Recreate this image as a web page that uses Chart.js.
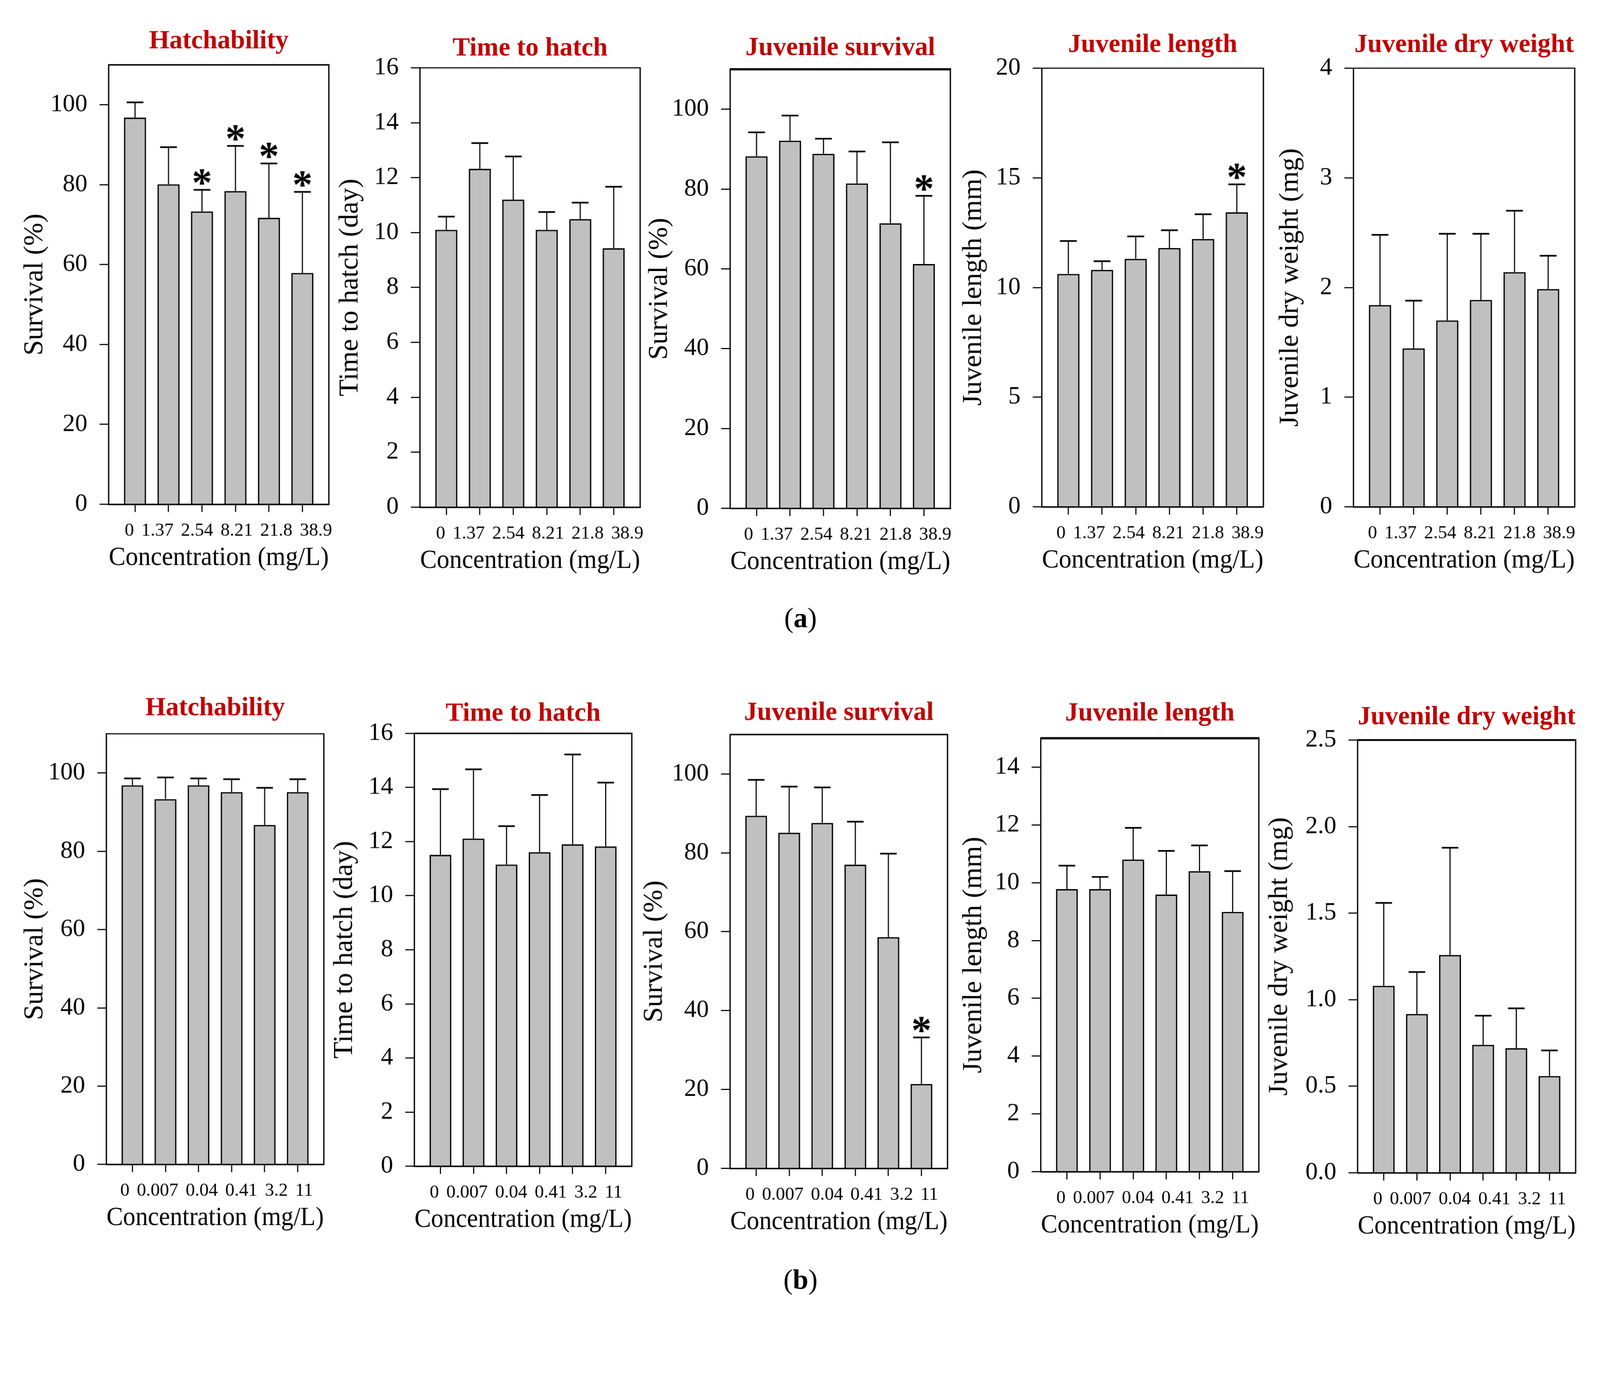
<!DOCTYPE html>
<html><head><meta charset="utf-8">
<script src="https://cdn.jsdelivr.net/npm/chart.js@4.4.1/dist/chart.umd.min.js"></script>
<style>
html,body{margin:0;padding:0;background:#fff;overflow:hidden;}
body{font-family:'Liberation Serif','Times New Roman',serif;}
#page{position:absolute;left:0;top:0;width:4343px;height:3559px;transform-origin:0 0;background:#fff;}
#page canvas{position:absolute;}
.lbl{position:absolute;font-size:76px;line-height:1;transform:translate(-50%,-50%);color:#000;white-space:nowrap;}
</style></head><body>
<div id="page">
<div class="lbl" style="left:2173px;top:1677px">(<b>a</b>)</div>
<div class="lbl" style="left:2173px;top:3473px">(<b>b</b>)</div>
</div>
<script>
// ---------- categories ----------
const catsA = ['0', '1.37', '2.54', '8.21', '21.8', '38.9'];
const catsB = ['0', '0.007', '0.04', '0.41', '3.2', '11'];

// ---------- (a) series ----------
const hatchA      = [96.8, 80.1, 73.3, 78.4, 71.7, 57.9];
const hatchAErr   = [3.8, 9.3, 5.4, 11.3, 13.6, 20.3];
const hatchASig   = [0, 0, 1, 1, 1, 1];

const timeA       = [10.1, 12.32, 11.2, 10.1, 10.49, 9.43];
const timeAErr    = [0.48, 0.94, 1.57, 0.65, 0.6, 2.24];
const timeASig    = [0, 0, 0, 0, 0, 0];

const survA       = [88.2, 92.1, 88.8, 81.4, 71.4, 61.2];
const survAErr    = [6.0, 6.3, 3.8, 8.0, 20.3, 17.1];
const survASig    = [0, 0, 0, 0, 0, 1];

const lenA        = [10.62, 10.8, 11.31, 11.8, 12.21, 13.43];
const lenAErr     = [1.5, 0.4, 1.02, 0.81, 1.13, 1.27];
const lenASig     = [0, 0, 0, 0, 0, 1];

const wtA         = [1.84, 1.445, 1.70, 1.887, 2.14, 1.986];
const wtAErr      = [0.64, 0.435, 0.79, 0.603, 0.56, 0.304];
const wtASig      = [0, 0, 0, 0, 0, 0];

// ---------- (b) series ----------
const hatchB      = [96.85, 93.3, 96.85, 95.1, 86.7, 95.1];
const hatchBErr   = [1.75, 5.55, 1.75, 3.3, 9.5, 3.3];
const hatchBSig   = [0, 0, 0, 0, 0, 0];

const timeB       = [11.51, 12.11, 11.15, 11.61, 11.9, 11.82];
const timeBErr    = [2.43, 2.56, 1.42, 2.11, 3.32, 2.36];
const timeBSig    = [0, 0, 0, 0, 0, 0];

const survB       = [89.4, 85.1, 87.6, 77.0, 58.6, 21.4];
const survBErr    = [9.1, 11.7, 9.0, 10.9, 21.2, 11.8];
const survBSig    = [0, 0, 0, 0, 0, 1];

const lenB        = [9.78, 9.78, 10.8, 9.59, 10.4, 8.99];
const lenBErr     = [0.81, 0.42, 1.1, 1.51, 0.89, 1.41];
const lenBSig     = [0, 0, 0, 0, 0, 0];

const wtB         = [1.08, 0.917, 1.258, 0.739, 0.72, 0.559];
const wtBErr      = [0.479, 0.243, 0.62, 0.169, 0.23, 0.148];
const wtBSig      = [0, 0, 0, 0, 0, 0];

// ---------- y tick values ----------
const ticksPct    = [0, 20, 40, 60, 80, 100];
const ticksDay    = [0, 2, 4, 6, 8, 10, 12, 14, 16];
const ticksLenA   = [0, 5, 10, 15, 20];
const ticksWtA    = [0, 1, 2, 3, 4];
const ticksLenB   = [0, 2, 4, 6, 8, 10, 12, 14];
const ticksWtB    = [0, 0.5, 1.0, 1.5, 2.0, 2.5];

// ---------- text ----------
const xTitle = 'Concentration (mg/L)';

// ---------- panel layout (positions / styles only) ----------
const panels = [
  {title:'Hatchability',        yTitle:'Survival (%)',             cats:catsA, vals:hatchA, errs:hatchAErr, sig:hatchASig, max:110, ticks:ticksPct,  dec:0, L:295,  R:892,  T:176,  B:1369, yGap:200, tGap:39, topW:4, lblShift:26},
  {title:'Time to hatch',       yTitle:'Time to hatch (day)',      cats:catsA, vals:timeA,  errs:timeAErr,  sig:timeASig,  max:16,  ticks:ticksDay,  dec:0, L:1140, R:1737, T:184,  B:1377, yGap:189, tGap:28, topW:3, lblShift:26},
  {title:'Juvenile survival',   yTitle:'Survival (%)',             cats:catsA, vals:survA,  errs:survAErr,  sig:survASig,  max:110, ticks:ticksPct,  dec:0, L:1982, R:2579, T:188,  B:1380, yGap:191, tGap:33, topW:6, lblShift:20},
  {title:'Juvenile length',     yTitle:'Juvenile length (mm)',     cats:catsA, vals:lenA,   errs:lenAErr,   sig:lenASig,   max:20,  ticks:ticksLenA, dec:0, L:2828, R:3429, T:185,  B:1376, yGap:185, tGap:38, topW:3, lblShift:20},
  {title:'Juvenile dry weight', yTitle:'Juvenile dry weight (mg)', cats:catsA, vals:wtA,    errs:wtAErr,    sig:wtASig,    max:4,   ticks:ticksWtA,  dec:0, L:3674, R:4274, T:185,  B:1376, yGap:171, tGap:38, topW:3, lblShift:20},
  {title:'Hatchability',        yTitle:'Survival (%)',             cats:catsB, vals:hatchB, errs:hatchBErr, sig:hatchBSig, max:110, ticks:ticksPct,  dec:0, L:289,  R:879,  T:1992, B:3161, yGap:194, tGap:45, topW:3, lblShift:4},
  {title:'Time to hatch',       yTitle:'Time to hatch (day)',      cats:catsB, vals:timeB,  errs:timeBErr,  sig:timeBSig,  max:16,  ticks:ticksDay,  dec:0, L:1125, R:1715, T:1991, B:3166, yGap:189, tGap:29, topW:4, lblShift:8},
  {title:'Juvenile survival',   yTitle:'Survival (%)',             cats:catsB, vals:survB,  errs:survBErr,  sig:survBSig,  max:110, ticks:ticksPct,  dec:0, L:1982, R:2572, T:1994, B:3171, yGap:205, tGap:34, topW:4, lblShift:8},
  {title:'Juvenile length',     yTitle:'Juvenile length (mm)',     cats:catsB, vals:lenB,   errs:lenBErr,   sig:lenBSig,   max:15,  ticks:ticksLenB, dec:0, L:2825, R:3416, T:2004, B:3180, yGap:182, tGap:42, topW:6, lblShift:8},
  {title:'Juvenile dry weight', yTitle:'Juvenile dry weight (mg)', cats:catsB, vals:wtB,    errs:wtBErr,    sig:wtBSig,    max:2.5, ticks:ticksWtB,  dec:1, L:3685, R:4276, T:2009, B:3184, yGap:212, tGap:37, topW:5, lblShift:8}
];

const FONT = "'Liberation Serif', 'Times New Roman', serif";
Chart.defaults.font.family = FONT;
Chart.defaults.color = '#000';

// fit the 4343x3559 page into the actual viewport
const page = document.getElementById('page');
const S = (window.innerWidth || 4343) / 4343;
page.style.transform = 'scale(' + S + ')';
const DPR = (window.devicePixelRatio || 1) * S;

const LS = 300, TS = 170, BS = 220, RS = 60, XT_H = 25;
const TITLE_SIZE = 71, YT_SIZE = 75, XT_SIZE = 71, YTICK_SIZE = 67, XTICK_SIZE = 50;
const X_MIN = -0.785, X_MAX = 5.79;
const measureCtx = document.createElement('canvas').getContext('2d');

const errPlugin = {
  id: 'errbars',
  afterDatasetsDraw(chart, args, opts) {
    const ctx = chart.ctx;
    const y = chart.scales.y;
    const meta = chart.getDatasetMeta(0);
    const ds = chart.data.datasets[0];
    ctx.save();
    ctx.strokeStyle = '#000';
    ctx.fillStyle = '#000';
    meta.data.forEach((bar, i) => {
      const v = ds.data[i].y;
      const top = y.getPixelForValue(v + opts.errs[i]);
      const cw = bar.width * 0.76;
      ctx.lineWidth = 3;
      ctx.beginPath(); ctx.moveTo(bar.x, bar.y); ctx.lineTo(bar.x, top); ctx.stroke();
      ctx.lineWidth = 4.5;
      ctx.beginPath(); ctx.moveTo(bar.x - cw / 2, top); ctx.lineTo(bar.x + cw / 2, top); ctx.stroke();
      if (opts.sig[i]) {
        ctx.font = 'bold 110px ' + FONT;
        ctx.textAlign = 'center';
        ctx.textBaseline = 'middle';
        ctx.fillText('*', bar.x, top - 12);
      }
    });
    const a = chart.chartArea;
    ctx.lineWidth = 3.5;
    ctx.beginPath(); ctx.moveTo(a.right, a.bottom); ctx.lineTo(a.right, a.top); ctx.stroke();
    ctx.lineWidth = opts.topW;
    ctx.beginPath(); ctx.moveTo(a.left - 1, a.top); ctx.lineTo(a.right + 1.75, a.top); ctx.stroke();
    ctx.restore();
  }
};

panels.forEach(p => {
  const W = p.R - p.L, H = p.B - p.T;
  const c = document.createElement('canvas');
  const cw = LS + W + RS, ch = TS + H + BS;
  c.style.left = (p.L - LS) + 'px'; c.style.top = (p.T - TS) + 'px';
  c.style.width = cw + 'px'; c.style.height = ch + 'px';
  c.width = cw; c.height = ch;
  page.appendChild(c);

  const tLH = TITLE_SIZE * 1.2;
  const tPadBottom = p.tGap + 0.3375 * TITLE_SIZE - tLH / 2;
  const tPadTop = TS - tLH - tPadBottom;

  new Chart(c, {
    type: 'bar',
    data: {
      datasets: [{
        data: p.vals.map((v, i) => ({x: i, y: v})),
        backgroundColor: '#C0C0C0',
        borderColor: '#000',
        borderWidth: 3.8,
        categoryPercentage: 1,
        barPercentage: 0.66
      }]
    },
    options: {
      responsive: false,
      devicePixelRatio: DPR,
      animation: false,
      layout: {padding: {left: 0, top: 0, right: RS, bottom: 0}},
      plugins: {
        legend: {display: false},
        tooltip: {enabled: false},
        title: {
          display: true, text: p.title, color: '#C00000', fullSize: false,
          font: {size: TITLE_SIZE, weight: 'bold', family: FONT},
          padding: {top: tPadTop, bottom: tPadBottom}
        },
        errbars: {errs: p.errs, sig: p.sig, topW: p.topW}
      },
      scales: {
        x: {
          type: 'linear', min: X_MIN, max: X_MAX, offset: false, weight: 0,
          afterBuildTicks: s => { s.ticks = p.cats.map((_, i) => ({value: i})); },
          afterFit: s => { s.height = XT_H; },
          ticks: {display: false},
          grid: {display: true, offset: false, drawOnChartArea: false, drawTicks: true, tickLength: 21, color: '#000', lineWidth: 3},
          border: {display: true, color: '#000', width: 4}
        },
        xl: {
          type: 'linear', position: 'bottom', axis: 'x', min: X_MIN, max: X_MAX, offset: false, weight: 1,
          afterBuildTicks: s => {
            measureCtx.font = XTICK_SIZE + 'px ' + FONT;
            const ws = p.cats.map(t => measureCtx.measureText(t).width);
            const gap = XTICK_SIZE * 0.4;
            const total = ws.reduce((a, b) => a + b, 0) + gap * (ws.length - 1);
            let px = W / 2 + p.lblShift - total / 2;
            s.ticks = ws.map(w => { const cx = px + w / 2; px += w + gap; return {value: X_MIN + cx / W * (X_MAX - X_MIN)}; });
          },
          afterFit: s => { s.height = BS - XT_H; },
          ticks: {
            autoSkip: false, maxRotation: 0, minRotation: 0, padding: 17,
            font: {size: XTICK_SIZE, family: FONT},
            callback: (v, i) => p.cats[i]
          },
          grid: {display: false, drawTicks: false},
          border: {display: false},
          title: {
            display: true, text: xTitle,
            font: {size: XT_SIZE, family: FONT},
            padding: {top: 0, bottom: BS - 146 - XT_SIZE * 0.6}
          }
        },
        y: {
          type: 'linear', min: 0, max: p.max,
          afterBuildTicks: s => { s.ticks = p.ticks.map(v => ({value: v})); },
          afterFit: s => { s.width = LS; },
          ticks: {
            autoSkip: false, padding: 33,
            font: {size: YTICK_SIZE, family: FONT},
            callback: v => Number(v).toFixed(p.dec)
          },
          grid: {display: true, drawOnChartArea: false, drawTicks: true, tickLength: 25, color: '#000', lineWidth: 3},
          border: {display: true, color: '#000', width: 3.5},
          title: {
            display: true, text: p.yTitle,
            font: {size: YT_SIZE, family: FONT},
            padding: {top: LS - p.yGap - YT_SIZE * 0.6, bottom: 0}
          }
        }
      }
    },
    plugins: [errPlugin]
  });
});
</script>
</body></html>
